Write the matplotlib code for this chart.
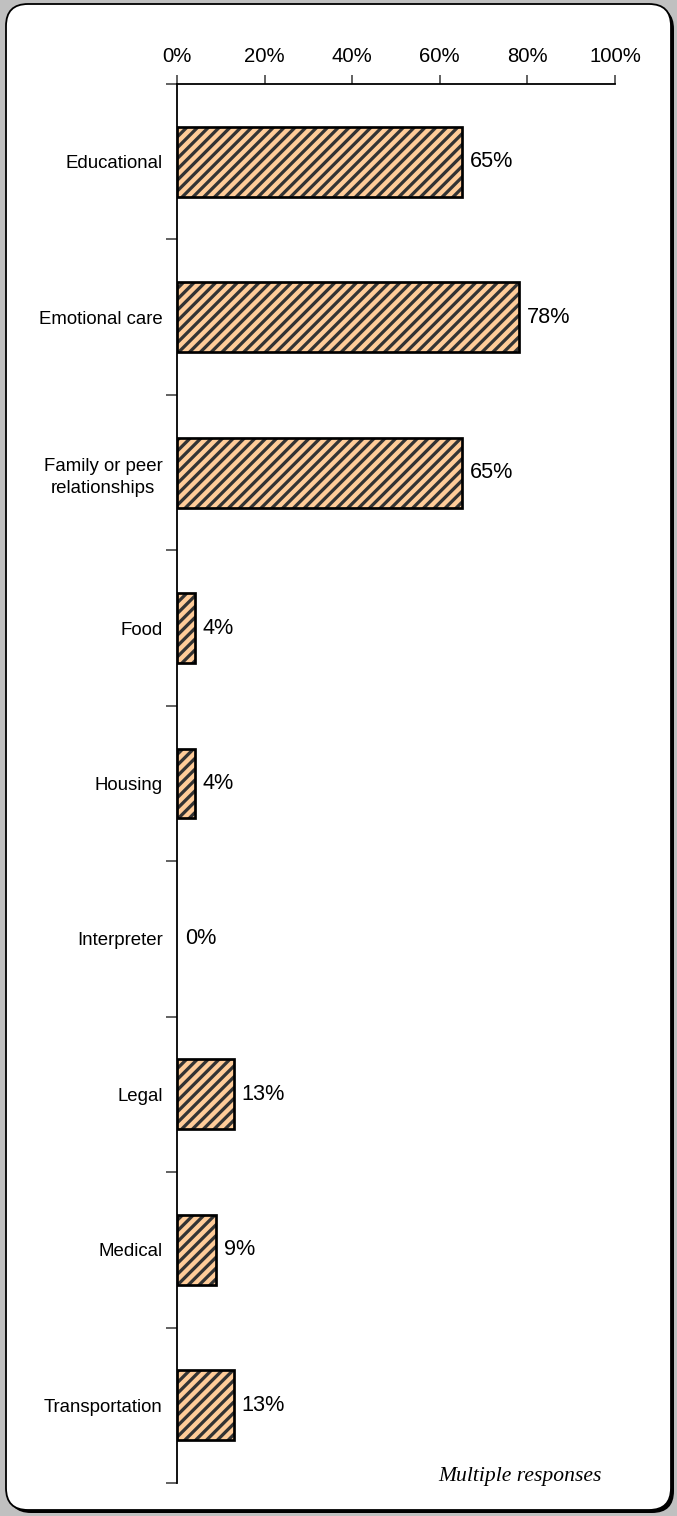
import matplotlib.pyplot as plt
from matplotlib.patches import FancyBboxPatch
import numpy as np

categories = [
    "Educational",
    "Emotional care",
    "Family or peer\nrelationships",
    "Food",
    "Housing",
    "Interpreter",
    "Legal",
    "Medical",
    "Transportation",
]
shares = [65, 78, 65, 4, 4, 0, 13, 9, 13]
x_ticks = [0, 20, 40, 60, 80, 100]

DPI = 130
W, H = 677, 1516

plt.rcParams["font.family"] = ["Liberation Sans", "DejaVu Sans"]
plt.rcParams["hatch.linewidth"] = 1.8

fig = plt.figure(figsize=(W / DPI, H / DPI), dpi=DPI, facecolor="#c0c0c0")

# rounded white card with a drop shadow, laid out in pixel units
bg = fig.add_axes([0, 0, 1, 1])
bg.set_xlim(0, W)
bg.set_ylim(0, H)
bg.axis("off")
box = "round,pad=0,rounding_size=22"
bg.add_patch(FancyBboxPatch((9, 3), 665, 1506, boxstyle=box, fc="black", ec="none"))
bg.add_patch(FancyBboxPatch((6, 6), 665, 1506, boxstyle=box, fc="white", ec="black", lw=1))

ax = fig.add_axes([177 / W, 1 - 1483 / H, 438 / W, 1399 / H])
ax.set_facecolor("none")
y = np.arange(len(categories))
vals = np.array(shares)
shown = vals > 0

# hatched fill first, then the black outline on top
ax.barh(y[shown], vals[shown], height=0.45, color="#ffcc99", edgecolor="#333333",
        hatch="////", linewidth=0)
ax.barh(y[shown], vals[shown], height=0.45, fill=False, edgecolor="black", linewidth=1.5)

for i, v in enumerate(shares):
    ax.text(v + 1.8, i, f"{v}%", va="center", ha="left", fontsize=12)

ax.set_xlim(0, 100)
ax.set_ylim(len(categories) - 0.5, -0.5)

ax.xaxis.tick_top()
ax.set_xticks(x_ticks)
ax.set_xticklabels([f"{t}%" for t in x_ticks])
ax.tick_params(axis="x", length=5, width=1, color="#555555", labelsize=11.2, pad=5)

ax.set_yticks(y)
ax.set_yticklabels(categories, linespacing=1.45)
ax.set_yticks(np.arange(-0.5, len(categories)), minor=True)
ax.tick_params(axis="y", which="major", length=0, labelsize=10.3, pad=8)
ax.tick_params(axis="y", which="minor", length=6, width=1, color="#555555")
for lbl in ax.get_yticklabels():
    lbl.set_multialignment("center")

for side in ("right", "bottom"):
    ax.spines[side].set_visible(False)
for side in ("top", "left"):
    ax.spines[side].set_color("black")
    ax.spines[side].set_linewidth(1)

fig.text(602 / W, 1 - 1476 / H, "Multiple responses", ha="right", va="center",
         family="Liberation Serif", style="italic", fontsize=12)

fig.savefig("out.png", dpi=DPI, facecolor=fig.get_facecolor())
